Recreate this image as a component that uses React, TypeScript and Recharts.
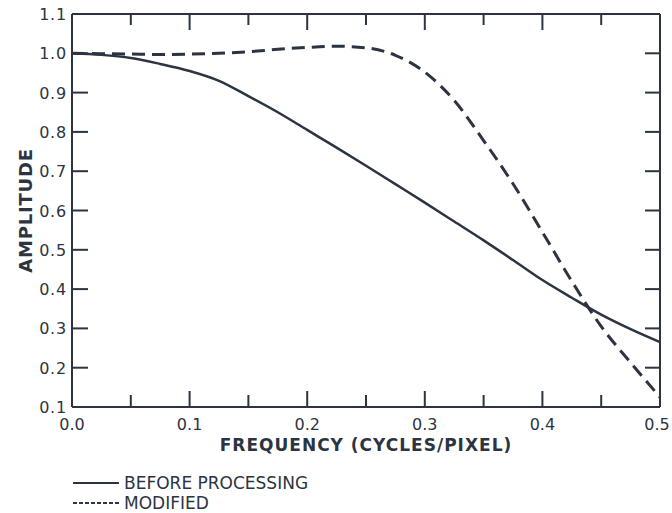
import { LineChart, Line, XAxis, YAxis, CartesianGrid, ReferenceLine } from "recharts";

const frequency = [
  0, 0.025, 0.05, 0.075, 0.1, 0.125, 0.15, 0.175, 0.2, 0.225, 0.25,
  0.275, 0.3, 0.325, 0.35, 0.375, 0.4, 0.425, 0.45, 0.475, 0.5,
];
const beforeProcessing = [
  1.0, 0.996, 0.988, 0.973, 0.955, 0.93, 0.891, 0.85, 0.805, 0.76, 0.714,
  0.667, 0.62, 0.572, 0.524, 0.474, 0.423, 0.378, 0.335, 0.298, 0.265,
];
const modified = [
  1.0, 0.999, 0.998, 0.997, 0.998, 1.0, 1.004, 1.01, 1.015, 1.018, 1.014,
  0.995, 0.952, 0.88, 0.778, 0.668, 0.545, 0.42, 0.305, 0.213, 0.125,
];

const xTicks = [0, 0.05, 0.1, 0.15, 0.2, 0.25, 0.3, 0.35, 0.4, 0.45, 0.5];
const yTicks = [
  0.1, 0.15, 0.2, 0.25, 0.3, 0.35, 0.4, 0.45, 0.5, 0.55, 0.6, 0.65, 0.7,
  0.75, 0.8, 0.85, 0.9, 0.95, 1.0, 1.05, 1.1,
];
const frameX = [0, 0.5];
const frameY = [0.1, 1.1];

const series = [
  { key: "before", name: "BEFORE PROCESSING", dash: undefined, legendDash: undefined },
  { key: "modified", name: "MODIFIED", dash: "13 7", legendDash: "4 2" },
];

const data = frequency.map((f, i) => ({
  f,
  before: beforeProcessing[i],
  modified: modified[i],
}));

const ink = "#2c3441";
const font = "'DejaVu Sans', sans-serif";

const W = 672;
const H = 513;
const M = { top: 14, right: 12, bottom: 40, left: 0 };
const Y_AXIS_W = 72;
const X_AXIS_H = 66;
const PLOT_W = 588;
const PLOT_H = 393;

// labels only on the 0.1 steps, 0.05 steps get shorter ticks
const isMajor = (v: number) => Math.abs(v * 10 - Math.round(v * 10)) < 1e-6;

// left axis tick, plus the matching inward tick on the right edge of the box
const LeftTick = ({ x, y, payload }: any) => {
  const v = Number(payload.value);
  const px = Number(x);
  const py = Number(y);
  const major = isMajor(v);
  const inner = v > 0.12 && v < 1.08;
  return (
    <g>
      {inner && <line x1={px} y1={py} x2={px + (major ? 16 : 13)} y2={py} stroke={ink} strokeWidth={2} />}
      {inner && <line x1={px + PLOT_W} y1={py} x2={px + PLOT_W - 15} y2={py} stroke={ink} strokeWidth={2} />}
      {major && (
        <text x={px - 5} y={py + 6} textAnchor="end" fontSize={16} letterSpacing={0.8} fontFamily={font} fill={ink}>
          {v.toFixed(1)}
        </text>
      )}
    </g>
  );
};

// bottom axis tick, plus the matching inward tick on the top edge of the box
const BottomTick = ({ x, y, payload }: any) => {
  const v = Number(payload.value);
  const px = Number(x);
  const py = Number(y);
  const major = isMajor(v);
  const inner = v > 0.01 && v < 0.49;
  const last = v > 0.49;
  return (
    <g>
      {inner && <line x1={px} y1={py} x2={px} y2={py - (major ? 16 : 12)} stroke={ink} strokeWidth={2} />}
      {inner && <line x1={px} y1={py - PLOT_H} x2={px} y2={py - PLOT_H + (major ? 16 : 11)} stroke={ink} strokeWidth={2} />}
      {major && (
        <text x={last ? px - 3 : px} y={py + 23} textAnchor="middle" fontSize={16} fontFamily={font} fill={ink}>
          {v.toFixed(1)}
        </text>
      )}
    </g>
  );
};

export default function App() {
  return (
    <div style={{ position: "relative", width: W, height: H, background: "#fff" }}>
      <style>{`body { margin: 0; }`}</style>
      <LineChart width={W} height={H} data={data} margin={M}>
        {/* the closed frame round the plot */}
        <CartesianGrid
          horizontalValues={frameY}
          verticalValues={frameX}
          stroke={ink}
          strokeWidth={2}
        />
        <XAxis
          dataKey="f"
          type="number"
          domain={[0, 0.5]}
          ticks={xTicks}
          height={X_AXIS_H}
          tickSize={0}
          tickMargin={0}
          tick={<BottomTick />}
          axisLine={{ stroke: ink, strokeWidth: 2 }}
          tickLine={false}
          label={{
            value: "FREQUENCY (CYCLES/PIXEL)",
            position: "insideTop",
            offset: 32,
            fill: ink,
            fontSize: 17,
            fontWeight: "bold",
            fontFamily: font,
            letterSpacing: 1,
          }}
        />
        <YAxis
          type="number"
          domain={[0.1, 1.1]}
          ticks={yTicks}
          width={Y_AXIS_W}
          tickSize={0}
          tickMargin={0}
          tick={<LeftTick />}
          axisLine={{ stroke: ink, strokeWidth: 2 }}
          tickLine={false}
          label={{
            value: "AMPLITUDE",
            angle: -90,
            position: "insideLeft",
            offset: 26,
            fill: ink,
            fontSize: 18,
            fontWeight: "bold",
            fontFamily: font,
            letterSpacing: 0.8,
            style: { textAnchor: "middle" },
          }}
        />
        <ReferenceLine y={1.1} stroke={ink} strokeWidth={2} />
        <ReferenceLine x={0.5} stroke={ink} strokeWidth={2} />
        {series.map((s) => (
          <Line
            key={s.key}
            dataKey={s.key}
            name={s.name}
            type="monotone"
            stroke={ink}
            strokeWidth={s.dash ? 3 : 2.5}
            strokeDasharray={s.dash}
            dot={false}
            isAnimationActive={false}
          />
        ))}
      </LineChart>
      <div style={{ position: "absolute", left: 73, top: 473, fontFamily: font, fontSize: 17, color: ink }}>
        {series.map((s) => (
          <div key={s.key} style={{ display: "flex", alignItems: "center", height: 20 }}>
            <svg width={51} height={6}>
              <line x1={0} y1={3} x2={46} y2={3} stroke={ink} strokeWidth={2} strokeDasharray={s.legendDash} />
            </svg>
            <span>{s.name}</span>
          </div>
        ))}
      </div>
    </div>
  );
}
